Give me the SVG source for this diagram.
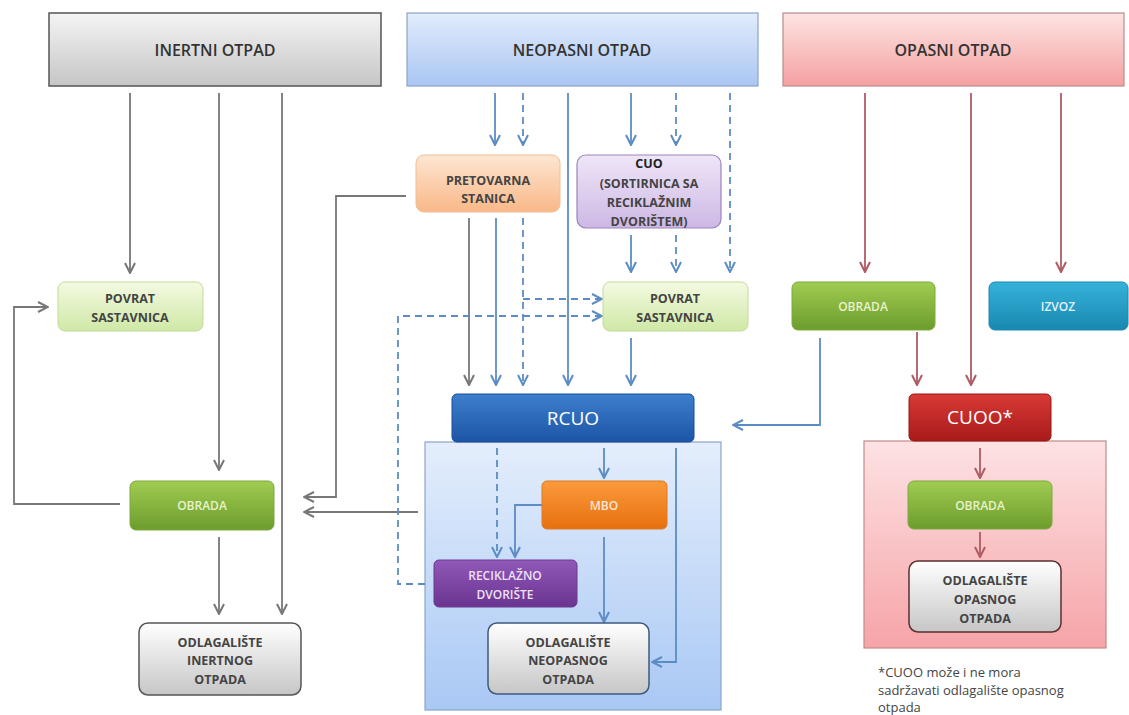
<svg xmlns="http://www.w3.org/2000/svg" width="1129" height="715" viewBox="0 0 1129 715">
<defs>
<linearGradient id="gGray" x1="0" y1="0" x2="0" y2="1"><stop offset="0" stop-color="#f4f4f4"/><stop offset="1" stop-color="#c6c6c6"/></linearGradient>
<linearGradient id="gBlueH" x1="0" y1="0" x2="0" y2="1"><stop offset="0" stop-color="#e2ecfc"/><stop offset="1" stop-color="#a9c6f2"/></linearGradient>
<linearGradient id="gRedH" x1="0" y1="0" x2="0" y2="1"><stop offset="0" stop-color="#fde4e4"/><stop offset="1" stop-color="#f5a0a0"/></linearGradient>
<linearGradient id="gOrL" x1="0" y1="0" x2="0" y2="1"><stop offset="0" stop-color="#fde6d2"/><stop offset="1" stop-color="#f9b888"/></linearGradient>
<linearGradient id="gPuL" x1="0" y1="0" x2="0" y2="1"><stop offset="0" stop-color="#efe6f8"/><stop offset="1" stop-color="#cdb8e4"/></linearGradient>
<linearGradient id="gGrL" x1="0" y1="0" x2="0" y2="1"><stop offset="0" stop-color="#f4fae2"/><stop offset="1" stop-color="#cfe8a6"/></linearGradient>
<linearGradient id="gGr" x1="0" y1="0" x2="0" y2="1"><stop offset="0" stop-color="#a0cc52"/><stop offset="1" stop-color="#6c9c2c"/></linearGradient>
<linearGradient id="gCy" x1="0" y1="0" x2="0" y2="1"><stop offset="0" stop-color="#35b2da"/><stop offset="1" stop-color="#1a88b0"/></linearGradient>
<linearGradient id="gBl" x1="0" y1="0" x2="0" y2="1"><stop offset="0" stop-color="#3c7fcc"/><stop offset="1" stop-color="#1d55a6"/></linearGradient>
<linearGradient id="gRd" x1="0" y1="0" x2="0" y2="1"><stop offset="0" stop-color="#d83a36"/><stop offset="1" stop-color="#a81a1a"/></linearGradient>
<linearGradient id="gOr" x1="0" y1="0" x2="0" y2="1"><stop offset="0" stop-color="#fa9a3c"/><stop offset="1" stop-color="#e8700e"/></linearGradient>
<linearGradient id="gPu" x1="0" y1="0" x2="0" y2="1"><stop offset="0" stop-color="#9058b8"/><stop offset="1" stop-color="#6a3490"/></linearGradient>
<linearGradient id="gWh" x1="0" y1="0" x2="0" y2="1"><stop offset="0" stop-color="#ffffff"/><stop offset="1" stop-color="#c6c6c6"/></linearGradient>
<linearGradient id="gBlC" x1="0" y1="0" x2="0" y2="1"><stop offset="0" stop-color="#e4eefc"/><stop offset="1" stop-color="#a9c8f4"/></linearGradient>
<linearGradient id="gRdC" x1="0" y1="0" x2="0" y2="1"><stop offset="0" stop-color="#fde2e4"/><stop offset="1" stop-color="#f6a4a8"/></linearGradient>
<marker id="aG" viewBox="0 0 12 12" refX="11" refY="6" markerWidth="12" markerHeight="12" markerUnits="userSpaceOnUse" orient="auto"><path d="M1,1 L11,6 L1,11" fill="none" stroke="#777" stroke-width="2"/></marker>
<marker id="aB" viewBox="0 0 12 12" refX="11" refY="6" markerWidth="12" markerHeight="12" markerUnits="userSpaceOnUse" orient="auto"><path d="M1,1 L11,6 L1,11" fill="none" stroke="#5b8cc4" stroke-width="2"/></marker>
<marker id="aR" viewBox="0 0 12 12" refX="11" refY="6" markerWidth="12" markerHeight="12" markerUnits="userSpaceOnUse" orient="auto"><path d="M1,1 L11,6 L1,11" fill="none" stroke="#b05a62" stroke-width="2"/></marker>
</defs>
<style>
text{font-family:"Open Sans","Liberation Sans",sans-serif;text-anchor:middle}
.h{font-size:16px;font-weight:600;fill:#333}
.t{font-size:12.5px;font-weight:bold;fill:#444}
.w{font-size:12px;font-weight:600;fill:#e8f2cc}
.big{font-size:19px;fill:#fff}
.g{fill:none;stroke:#777;stroke-width:1.8}
.b{fill:none;stroke:#5b8cc4;stroke-width:1.8}
.bd{fill:none;stroke:#5b8cc4;stroke-width:1.8;stroke-dasharray:7 5}
.r{fill:none;stroke:#b05a62;stroke-width:1.8}
</style>
<rect width="1129" height="715" fill="#fff"/>

<g id="containers">
<rect x="425" y="442" width="296" height="268" fill="url(#gBlC)" stroke="#8aa6cc" stroke-width="1.2"/>
<rect x="864" y="441" width="242" height="207" fill="url(#gRdC)" stroke="#c48a8a" stroke-width="1.2"/>
</g>

<g id="connectors">
<path class="g" d="M130,93 V273" marker-end="url(#aG)"/>
<path class="g" d="M219,93 V470" marker-end="url(#aG)"/>
<path class="g" d="M282,93 V614" marker-end="url(#aG)"/>
<path class="g" d="M219,537 V614" marker-end="url(#aG)"/>
<path class="g" d="M120,504 H14 V307 H48" marker-end="url(#aG)"/>
<path class="g" d="M406,196 H336 V497 H304" marker-end="url(#aG)"/>
<path class="g" d="M418,512 H304" marker-end="url(#aG)"/>
<path class="g" d="M469,218 V385" marker-end="url(#aG)"/>
<path class="b" d="M495,93 V145" marker-end="url(#aB)"/>
<path class="bd" d="M523,93 V145" marker-end="url(#aB)"/>
<path class="b" d="M568,93 V385" marker-end="url(#aB)"/>
<path class="b" d="M631,93 V145" marker-end="url(#aB)"/>
<path class="bd" d="M676,93 V145" marker-end="url(#aB)"/>
<path class="bd" d="M730,93 V272" marker-end="url(#aB)"/>
<path class="b" d="M496,218 V385" marker-end="url(#aB)"/>
<path class="bd" d="M523,218 V385" marker-end="url(#aB)"/>
<path class="bd" d="M523,299 H602" marker-end="url(#aB)"/>
<path class="bd" d="M425,584 H398 V316 H602" marker-end="url(#aB)"/>
<path class="b" d="M631,235 V272" marker-end="url(#aB)"/>
<path class="bd" d="M676,235 V272" marker-end="url(#aB)"/>
<path class="b" d="M631,338 V385" marker-end="url(#aB)"/>
<path class="bd" d="M497,448 V557" marker-end="url(#aB)"/>
<path class="b" d="M604,448 V478" marker-end="url(#aB)"/>
<path class="b" d="M542,505 H515 V557" marker-end="url(#aB)"/>
<path class="b" d="M604,537 V622" marker-end="url(#aB)"/>
<path class="b" d="M676,448 V662 H652" marker-end="url(#aB)"/>
<path class="b" d="M820,338 V425 H733" marker-end="url(#aB)"/>
<path class="r" d="M865,93 V272" marker-end="url(#aR)"/>
<path class="r" d="M971,93 V385" marker-end="url(#aR)"/>
<path class="r" d="M1061,93 V272" marker-end="url(#aR)"/>
<path class="r" d="M917,332 V385" marker-end="url(#aR)"/>
<path class="r" d="M980,448 V478" marker-end="url(#aR)"/>
<path class="r" d="M980,532 V557" marker-end="url(#aR)"/>
</g>

<g id="inertni-otpad"><rect x="49" y="13" width="332" height="73" fill="url(#gGray)" stroke="#555" stroke-width="1.5"/><text class="h" x="215" y="56">INERTNI OTPAD</text></g>
<g id="neopasni-otpad"><rect x="407" y="13" width="351" height="73" fill="url(#gBlueH)" stroke="#8ba4c6" stroke-width="1.2"/><text class="h" x="582" y="56">NEOPASNI OTPAD</text></g>
<g id="opasni-otpad"><rect x="783" y="13" width="341" height="73" fill="url(#gRedH)" stroke="#b88c8c" stroke-width="1.2"/><text class="h" x="953" y="56">OPASNI OTPAD</text></g>

<g id="povrat-l"><rect x="58" y="282" width="145" height="49" rx="7" fill="url(#gGrL)" stroke="#c2dc98"/><text class="t" x="130" y="303">POVRAT</text><text class="t" x="130" y="322">SASTAVNICA</text></g>
<g id="obrada-l"><rect x="130" y="481" width="144" height="49" rx="6" fill="url(#gGr)" stroke="#7ea83e"/><text class="w" x="202" y="510">OBRADA</text></g>
<g id="odl-inert"><rect x="139" y="623" width="162" height="72" rx="9" fill="url(#gWh)" stroke="#555" stroke-width="1.5"/><text class="t" x="220" y="647">ODLAGALIŠTE</text><text class="t" x="220" y="665">INERTNOG</text><text class="t" x="220" y="684">OTPADA</text></g>

<g id="pretovarna"><rect x="416" y="155" width="144" height="57" rx="8" fill="url(#gOrL)" stroke="#f0c098"/><text class="t" x="488" y="185">PRETOVARNA</text><text class="t" x="488" y="203">STANICA</text></g>
<g id="cuo"><rect x="577" y="155" width="144" height="73" rx="9" fill="url(#gPuL)" stroke="#9c84ba" stroke-width="1.2"/><text class="t" x="649" y="168" style="fill:#222">CUO</text><text class="t" x="649" y="188">(SORTIRNICA SA</text><text class="t" x="649" y="207">RECIKLAŽNIM</text><text class="t" x="649" y="226">DVORIŠTEM)</text></g>
<g id="povrat-r"><rect x="603" y="282" width="145" height="49" rx="7" fill="url(#gGrL)" stroke="#c2dc98"/><text class="t" x="675" y="303">POVRAT</text><text class="t" x="675" y="322">SASTAVNICA</text></g>
<g id="rcuo"><rect x="452" y="394" width="242" height="48" rx="5" fill="url(#gBl)" stroke="#1a4c96"/><text class="big" x="573" y="425">RCUO</text></g>
<g id="mbo"><rect x="542" y="481" width="125" height="48" rx="5" fill="url(#gOr)" stroke="#e07a20"/><text class="w" x="604" y="510" style="fill:#fde6d2">MBO</text></g>
<g id="reciklazno"><rect x="434" y="560" width="143" height="47" rx="5" fill="url(#gPu)" stroke="#6a3a90"/><text class="w" x="505" y="580" style="fill:#eee0f6">RECIKLAŽNO</text><text class="w" x="505" y="599" style="fill:#eee0f6">DVORIŠTE</text></g>
<g id="odl-neopasni"><rect x="488" y="623" width="161" height="71" rx="9" fill="url(#gWh)" stroke="#3e5a7e" stroke-width="1.5"/><text class="t" x="568" y="647">ODLAGALIŠTE</text><text class="t" x="568" y="665">NEOPASNOG</text><text class="t" x="568" y="684">OTPADA</text></g>

<g id="obrada-r"><rect x="792" y="282" width="143" height="48" rx="6" fill="url(#gGr)" stroke="#7ea83e"/><text class="w" x="863" y="311">OBRADA</text></g>
<g id="izvoz"><rect x="989" y="282" width="139" height="48" rx="6" fill="url(#gCy)" stroke="#1a8ab0"/><text class="w" x="1058" y="311" style="fill:#e0f2fa">IZVOZ</text></g>
<g id="cuoo"><rect x="909" y="394" width="142" height="47" rx="5" fill="url(#gRd)" stroke="#961616"/><text class="big" x="980" y="424">CUOO*</text></g>
<g id="obrada-c"><rect x="908" y="481" width="144" height="48" rx="6" fill="url(#gGr)" stroke="#7ea83e"/><text class="w" x="980" y="510">OBRADA</text></g>
<g id="odl-opasni"><rect x="909" y="561" width="152" height="71" rx="9" fill="url(#gWh)" stroke="#5a3030" stroke-width="1.5"/><text class="t" x="985" y="585">ODLAGALIŠTE</text><text class="t" x="985" y="604">OPASNOG</text><text class="t" x="985" y="623">OTPADA</text></g>

<g id="footnote" style="font-size:13px;fill:#444">
<text x="878" y="677" style="text-anchor:start">*CUOO može i ne mora</text>
<text x="878" y="695" style="text-anchor:start">sadržavati odlagalište opasnog</text>
<text x="878" y="712" style="text-anchor:start">otpada</text>
</g>
</svg>
